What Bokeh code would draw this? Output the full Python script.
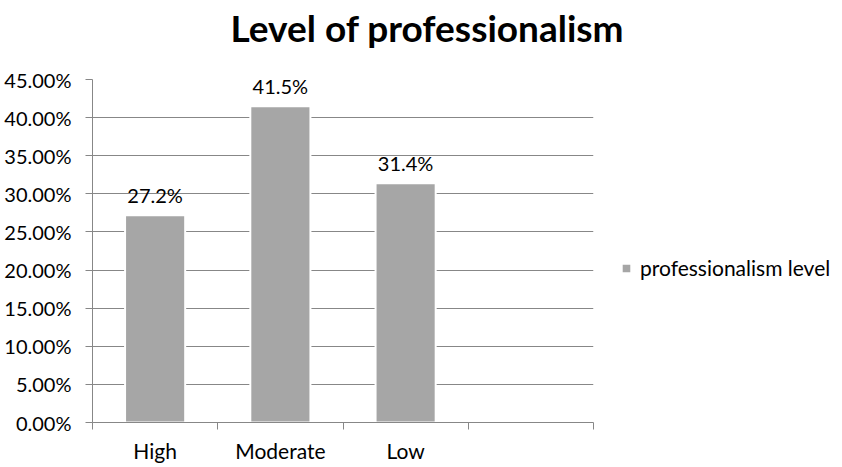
from bokeh.plotting import figure
from bokeh.models import (Range1d, FixedTicker, NumeralTickFormatter,
                          Legend, LegendItem, ColumnDataSource)
from bokeh.embed import file_html
from bokeh.resources import INLINE
from bokeh.core.properties import value

# ---- data ----
title_text = "Level of professionalism"
series_name = "professionalism level"
categories = ["High", "Moderate", "Low"]
n_slots = 4  # the category axis has one extra empty slot
values = [0.272, 0.415, 0.314]
y_ticks = [0.0, 0.05, 0.10, 0.15, 0.20, 0.25, 0.30, 0.35, 0.40, 0.45]

FONT = "Lato"
GRAY = "#878787"
BAR = "#A6A6A6"

xs = [i + 0.5 for i in range(len(categories))]
labels = [f"{v * 100:.1f}%" for v in values]
src = ColumnDataSource(dict(x=xs, top=values, label=labels))

p = figure(frame_width=501, frame_height=343,
           min_border_left=92, min_border_right=249,
           min_border_top=79, min_border_bottom=45,
           x_range=Range1d(0, n_slots), y_range=Range1d(0, y_ticks[-1]),
           output_backend="svg", toolbar_location=None)
p.outline_line_color = None
p.background_fill_color = "white"
p.border_fill_color = "white"

bars = p.vbar(x="x", top="top", bottom=0, width=0.48, source=src,
              fill_color=BAR, line_color="white", line_width=2)

p.text(x="x", y="top", text="label", source=src, text_align="center",
       text_baseline="middle", y_offset=-20, text_font=value(FONT),
       text_font_size="20px", text_color="black")

# grid
p.xgrid.visible = False
p.ygrid.ticker = FixedTicker(ticks=y_ticks)
p.ygrid.grid_line_color = GRAY
p.ygrid.grid_line_width = 1

# y axis
p.yaxis.ticker = FixedTicker(ticks=y_ticks)
p.yaxis.formatter = NumeralTickFormatter(format="0.00%")
p.yaxis.major_tick_out = 7
p.yaxis.major_tick_in = 0
p.yaxis.minor_tick_line_color = None
p.yaxis.axis_line_color = GRAY
p.yaxis.major_tick_line_color = GRAY
p.yaxis.major_label_standoff = 14
p.yaxis.major_label_text_font = FONT
p.yaxis.major_label_text_font_size = "20px"
p.yaxis.major_label_text_color = "black"

# x axis
p.xaxis.ticker = FixedTicker(ticks=xs, minor_ticks=list(range(n_slots + 1)))
p.xaxis.major_label_overrides = {x: c for x, c in zip(xs, categories)}
p.xaxis.major_tick_out = 0
p.xaxis.major_tick_in = 0
p.xaxis.minor_tick_out = 7
p.xaxis.minor_tick_in = 0
p.xaxis.minor_tick_line_color = GRAY
p.xaxis.axis_line_color = GRAY
p.xaxis.major_label_standoff = 8
p.xaxis.major_label_text_font = FONT
p.xaxis.major_label_text_font_size = "21px"
p.xaxis.major_label_text_color = "black"

# title: a trailing empty line keeps a gap between title and plot area
p.title.text = title_text + "\n"
p.title.align = "left"
p.title.offset = 138
p.title.vertical_align = "top"
p.title.standoff = 0
p.title.text_line_height = 0.62
p.title.text_font = FONT
p.title.text_font_style = "bold"
p.title.text_font_size = "37px"
p.title.text_color = "black"

# legend
legend = Legend(items=[LegendItem(label=series_name, renderers=[bars])],
                location=(27, 142), padding=0, margin=0,
                border_line_color=None, background_fill_alpha=0,
                glyph_width=12, glyph_height=12, label_standoff=8,
                label_text_font=FONT, label_text_font_size="21px",
                label_text_color="black")
p.add_layout(legend, "right")

open("out.html", "w").write(file_html(p, INLINE))
